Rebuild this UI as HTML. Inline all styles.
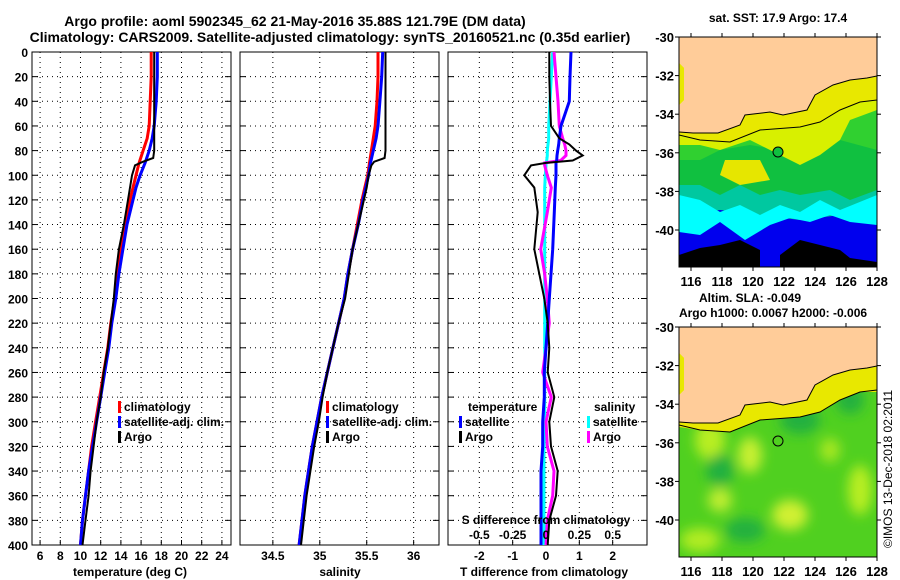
<!DOCTYPE html>
<html><head><meta charset="utf-8"><style>
body{margin:0;background:#fff}
svg{display:block}
text{font-family:"Liberation Sans",sans-serif;font-weight:bold;fill:#000}
</style></head><body>
<svg id="svg" width="900" height="580" viewBox="0 0 900 580">
<defs>
<clipPath id="c1"><rect x="32" y="52" width="199" height="493"/></clipPath>
<clipPath id="c2"><rect x="240" y="52" width="199" height="493"/></clipPath>
<clipPath id="c3"><rect x="448" y="52" width="199" height="493"/></clipPath>
<clipPath id="m1"><rect x="679" y="37" width="198" height="230"/></clipPath>
<clipPath id="m2"><rect x="679" y="327" width="198" height="230"/></clipPath>
<filter id="bl"><feGaussianBlur stdDeviation="6"/></filter>
</defs>
<text x="295" y="26" font-size="14" text-anchor="middle">Argo profile: aoml 5902345_62 21-May-2016 35.88S 121.79E (DM data)</text>
<text x="330" y="42" font-size="14" text-anchor="middle">Climatology: CARS2009. Satellite-adjusted climatology: synTS_20160521.nc (0.35d earlier)</text>

<!-- top map -->
<g clip-path="url(#m1)">
<rect x="679" y="37" width="198" height="230" fill="#0000ee"/>
<polygon fill="#00c8a0" points="679,37 877,37 877,225 840,215 800,220 760,215 720,210 679,215"/>
<polygon fill="#00ffff" points="679,195 700,200 720,212 740,205 760,215 780,205 800,212 820,200 840,210 877,195 877,225 850,222 830,215 810,222 790,218 770,225 745,240 720,222 700,235 679,232"/>
<polygon fill="#10c040" points="679,37 877,37 877,190 850,200 830,190 800,195 780,190 760,195 740,185 720,195 700,185 679,185"/>
<polygon fill="#30d030" points="679,37 877,37 877,150 840,140 810,160 780,150 750,145 720,150 700,160 679,160"/>
<polygon fill="#d8f000" points="679,37 877,37 877,110 850,120 840,140 820,155 800,165 770,150 750,140 720,150 700,145 679,145"/>
<polygon fill="#e6e600" points="725,160 760,160 770,180 740,185 720,175"/>
<polygon fill="#e8e800" points="679,37 877,37 877,100 860,102 840,110 820,122 800,127 760,130 730,142 700,140 679,135"/>
<polygon fill="#000" points="679,255 700,248 720,245 740,240 760,250 760,267 679,267"/>
<polygon fill="#000" points="780,255 800,240 820,245 840,250 850,258 877,262 877,267 780,267"/>
<polygon fill="#ffcc99" points="679,37 877,37 877,76 867,78 850,80 833,85 815,95 807,110 783,115 770,112 745,115 740,125 718,133 693,133 679,132 679,105 684,100 684,68 679,63"/>
<polygon fill="#e8e800" points="679,63 684,68 684,100 679,105"/>
<polyline fill="none" stroke="#000" stroke-width="1" points="679,132 693,133 718,133 740,125 745,115 770,112 783,115 807,110 815,95 833,85 850,80 867,78 877,76"/>
<polyline fill="none" stroke="#000" stroke-width="1" points="679,135 700,140 730,142 760,130 800,127 820,122 840,110 860,102 877,100"/>
<circle cx="778" cy="152" r="5" fill="#10c040" stroke="#000" stroke-width="1"/>
</g>
<rect x="679" y="37" width="198" height="230" fill="none" stroke="#000"/>

<!-- bottom map -->
<g clip-path="url(#m2)">
<rect x="679" y="327" width="198" height="230" fill="#50d020"/>
<g filter="url(#bl)">
<ellipse cx="710" cy="440" rx="15" ry="20" fill="#b8ee20"/>
<ellipse cx="750" cy="455" rx="12" ry="18" fill="#c8f030"/>
<ellipse cx="790" cy="515" rx="18" ry="15" fill="#d0f030"/>
<ellipse cx="720" cy="500" rx="12" ry="12" fill="#c0ee30"/>
<ellipse cx="860" cy="490" rx="12" ry="25" fill="#b8ee20"/>
<ellipse cx="830" cy="450" rx="10" ry="12" fill="#a8e820"/>
<ellipse cx="745" cy="530" rx="20" ry="12" fill="#20b040"/>
<ellipse cx="720" cy="470" rx="14" ry="16" fill="#20b040"/>
<ellipse cx="800" cy="420" rx="20" ry="14" fill="#20b040"/>
<ellipse cx="850" cy="400" rx="14" ry="14" fill="#20b040"/>
<ellipse cx="700" cy="540" rx="20" ry="12" fill="#b0ec20"/>
</g>
<polygon fill="#e8e800" points="679,327 877,327 877,392 860,392 840,400 820,412 800,417 760,420 730,432 700,430 679,427"/>
<polygon fill="#ffcc99" points="679,327 877,327 877,366 867,368 850,370 833,375 815,385 807,400 783,405 770,402 745,405 740,415 718,423 693,423 679,422 679,395 684,390 684,358 679,353"/>
<polygon fill="#e8e800" points="679,353 684,358 684,390 679,395"/>
<polyline fill="none" stroke="#000" stroke-width="1" points="679,422 693,423 718,423 740,415 745,405 770,402 783,405 807,400 815,385 833,375 850,370 867,368 877,366"/>
<polyline fill="none" stroke="#000" stroke-width="1" points="679,425 700,430 730,432 760,420 800,417 820,412 840,400 860,392 877,390"/>
<circle cx="778" cy="441" r="5" fill="none" stroke="#000" stroke-width="1"/>
</g>
<rect x="679" y="327" width="198" height="230" fill="none" stroke="#000"/>
<text x="778" y="22" font-size="12" text-anchor="middle">sat. SST: 17.9 Argo: 17.4</text>
<text x="750" y="302" font-size="12" text-anchor="middle">Altim. SLA: -0.049</text>
<text x="773" y="317" font-size="12" text-anchor="middle">Argo h1000: 0.0067 h2000: -0.006</text>
<text x="0" y="0" font-size="12" transform="translate(892,548) rotate(-90)" style="font-weight:normal">©IMOS 13-Dec-2018 02:2011</text>
<g id="axes"></g>
</svg>
<script>
// ---- data ----
const tempDepth = [0,20,40,60,70,80,90,100,110,120,140,160,180,200,220,240,260,280,300,320,340,360,380,400];
const tempClim = [17.0,17.0,16.9,16.8,16.6,16.2,15.8,15.5,15.2,14.9,14.4,14.0,13.7,13.4,13.0,12.7,12.3,11.9,11.5,11.1,10.8,10.5,10.2,10.0];
const tempSat = [17.6,17.6,17.5,17.3,17.1,16.8,16.4,15.9,15.5,15.2,14.6,14.2,13.8,13.5,13.1,12.8,12.4,12.0,11.6,11.2,10.8,10.5,10.2,10.0];
const salClim = [35.62,35.62,35.61,35.59,35.57,35.55,35.53,35.51,35.48,35.45,35.40,35.35,35.30,35.26,35.20,35.14,35.08,35.02,34.97,34.92,34.88,34.84,34.81,34.78];
const salSat = [35.67,35.66,35.64,35.62,35.60,35.57,35.54,35.52,35.49,35.46,35.41,35.35,35.30,35.26,35.20,35.14,35.08,35.02,34.97,34.92,34.88,34.84,34.81,34.78];
const argoDepth = [0,20,40,60,80,86,89,92,100,110,120,140,160,180,200,220,240,260,280,300,320,340,360,380,400];
const argoTemp = [17.3,17.3,17.3,17.3,17.3,17.2,16.2,15.4,15.1,14.9,14.7,14.3,13.8,13.5,13.3,13.0,12.7,12.3,12.0,11.6,11.3,11.0,10.8,10.5,10.2];
const argoSal = [35.70,35.70,35.70,35.70,35.70,35.69,35.58,35.55,35.52,35.50,35.47,35.41,35.35,35.31,35.27,35.20,35.14,35.08,35.03,34.99,34.94,34.90,34.86,34.83,34.80];
const diffDepth = [0,20,40,60,70,75,80,84,88,90,92,100,110,130,160,180,200,220,240,260,280,300,320,340,360,380,400];
const diffTArgo = [0.1,0.1,0.12,0.15,0.4,0.7,0.9,1.1,0.8,0.0,-0.45,-0.65,-0.35,-0.25,-0.35,-0.2,-0.05,0.05,0.1,0.05,0.25,0.1,0.15,0.35,0.3,0.1,0.05];
const diffTSat = [0.75,0.72,0.7,0.45,0.4,0.38,0.35,0.33,0.32,0.3,0.3,0.3,0.28,0.25,0.2,0.15,0.1,0.05,0,-0.05,-0.05,-0.1,-0.1,-0.15,-0.15,-0.15,-0.15];
const diffSArgo = [0.06,0.075,0.09,0.1,0.125,0.14,0.15,0.15,0.11,-0.01,-0.01,0.01,0.04,0.01,-0.04,-0.01,0.01,0.025,0,-0.025,0.04,0,0.01,0.06,0.05,0.01,0];
const diffSSat = [0.05,0.04,0.03,0.02,0.02,0.015,0.01,0.01,0.005,0,0,-0.005,-0.01,-0.01,-0.01,-0.01,-0.01,-0.01,-0.01,-0.01,-0.01,-0.01,-0.015,-0.015,-0.015,-0.015,-0.015];
const depthTicks = [0,20,40,60,80,100,120,140,160,180,200,220,240,260,280,300,320,340,360,380,400];
const tempTicks = [6,8,10,12,14,16,18,20,22,24];
const salTicks = [34.5,35,35.5,36];
const tdTicks = [-2,-1,0,1,2];
const sdTicks = [-0.5,-0.25,0,0.25,0.5];
const sdTickLabels = ['-0.5','-0.25','0','0.25','0.5'];
const lonTicks = [116,118,120,122,124,126,128];
const latTicks = [-30,-32,-34,-36,-38,-40];

const NS='http://www.w3.org/2000/svg';
const g=document.getElementById('axes');
function mk(tag,at,parent){const e=document.createElementNS(NS,tag);for(const k in at)e.setAttribute(k,at[k]);(parent||g).appendChild(e);return e;}
const Y=d=>52+d*(493/400);
function lin(d0,d1,r0,r1){return v=>r0+(v-d0)/(d1-d0)*(r1-r0);}
const XT=lin(5.2,24.9,32,231), XS=lin(34.15,36.27,240,439), XD=lin(-2.94,3.03,448,647), XSD=v=>XD(v*4);

function panel(x0,name,xs,ticks,labels){
  ticks.forEach(t=>{const l=mk('line',{x1:xs(t),x2:xs(t),y1:52,y2:545,stroke:'#000','stroke-dasharray':'1,4'});
  
  const tk=mk('line',{x1:xs(t),x2:xs(t),y1:545,y2:540,stroke:'#000'});
  });
  depthTicks.forEach(d=>{if(d==0||d==400)return;const l=mk('line',{x1:x0,x2:x0+199,y1:Y(d),y2:Y(d),stroke:'#000','stroke-dasharray':'1,4'});
  
  const a=mk('line',{x1:x0,x2:x0+6,y1:Y(d),y2:Y(d),stroke:'#000'});
  const b=mk('line',{x1:x0+193,x2:x0+199,y1:Y(d),y2:Y(d),stroke:'#000'});});
  if(labels) ticks.forEach((t,i)=>{const tx=mk('text',{x:xs(t),y:560,'font-size':12,'text-anchor':'middle'});tx.textContent=labels[i];
  });
  const fr=mk('rect',{x:x0,y:52,width:199,height:493,fill:'none',stroke:'#000'});
  
}
function line(xs,ds,vs,col,w,clip,name){
  const p=mk('polyline',{fill:'none',stroke:col,'stroke-width':w,'clip-path':'url(#'+clip+')',points:vs.map((v,i)=>xs(v).toFixed(1)+','+Y(ds[i]).toFixed(1)).join(' ')});
  
}
function txt(x,y,s,name,anchor,size){const t=mk('text',{x:x,y:y,'font-size':size||12,'text-anchor':anchor||'start'});t.textContent=s;
  return t;}
function leg(x,y,col,s,name){const r=mk('rect',{x:x,y:y-10,width:3,height:12,fill:col});
  txt(x+6,y,s,name+'-label');}

panel(32,'temp-panel',XT,tempTicks,tempTicks.map(String));
panel(240,'salinity-panel',XS,salTicks,salTicks.map(String));
panel(448,'diff-panel',XD,tdTicks,tdTicks.map(String));
depthTicks.forEach(d=>txt(28,Y(d)+5,String(d),'depth-tick-label','end',12));

line(XT,tempDepth,tempClim,'#f00',3,'c1','temp-climatology-line');
line(XT,tempDepth,tempSat,'#00f',3,'c1','temp-satellite-line');
line(XT,argoDepth,argoTemp,'#000',2,'c1','temp-argo-line');
line(XS,tempDepth,salClim,'#f00',3,'c2','sal-climatology-line');
line(XS,tempDepth,salSat,'#00f',3,'c2','sal-satellite-line');
line(XS,argoDepth,argoSal,'#000',2,'c2','sal-argo-line');
line(XSD,diffDepth,diffSSat,'#0ff',3,'c3','sdiff-satellite-line');
line(XSD,diffDepth,diffSArgo,'#f0f',3,'c3','sdiff-argo-line');
line(XD,diffDepth,diffTSat,'#00f',3,'c3','tdiff-satellite-line');
line(XD,diffDepth,diffTArgo,'#000',2,'c3','tdiff-argo-line');

leg(118,411,'#f00','climatology','temp-legend-climatology');
leg(118,426,'#00f','satellite-adj. clim.','temp-legend-satellite');
leg(118,441,'#000','Argo','temp-legend-argo');
leg(326,411,'#f00','climatology','sal-legend-climatology');
leg(326,426,'#00f','satellite-adj. clim.','sal-legend-satellite');
leg(326,441,'#000','Argo','sal-legend-argo');
txt(468,411,'temperature','diff-legend-temperature-heading');
leg(459,426,'#00f','satellite','diff-legend-t-satellite');
leg(459,441,'#000','Argo','diff-legend-t-argo');
txt(594,411,'salinity','diff-legend-salinity-heading');
leg(587,426,'#0ff','satellite','diff-legend-s-satellite');
leg(587,441,'#f0f','Argo','diff-legend-s-argo');
txt(546,524,'S difference from climatology','sdiff-axis-title','middle');
sdTicks.forEach((t,i)=>txt(XSD(t),539,sdTickLabels[i],'sdiff-tick-label','middle'));
txt(130,576,'temperature (deg C)','temp-axis-title','middle');
txt(340,576,'salinity','sal-axis-title','middle');
txt(544,576,'T difference from climatology','tdiff-axis-title','middle');

const LX=lin(116,128,691,877);
const LY1=lin(-30,-40,37,230), LY2=lin(-30,-40,327,520);
[[LY1,267,37],[LY2,557,327]].forEach(([ly,yb,yt],mi)=>{
  lonTicks.forEach(l=>{txt(LX(l),yb+19,String(l),'map-lon-label','middle',13);
    const a=mk('line',{x1:LX(l),x2:LX(l),y1:yb,y2:yb+4,stroke:'#000'});
    const b=mk('line',{x1:LX(l),x2:LX(l),y1:yt,y2:yt-4,stroke:'#000'});});
  latTicks.forEach(l=>{txt(674,ly(l)+5,String(l),'map-lat-label','end',13);
    const a=mk('line',{x1:679,x2:675,y1:ly(l),y2:ly(l),stroke:'#000'});
    const b=mk('line',{x1:877,x2:881,y1:ly(l),y2:ly(l),stroke:'#000'});});
});
</script>
</body></html>
